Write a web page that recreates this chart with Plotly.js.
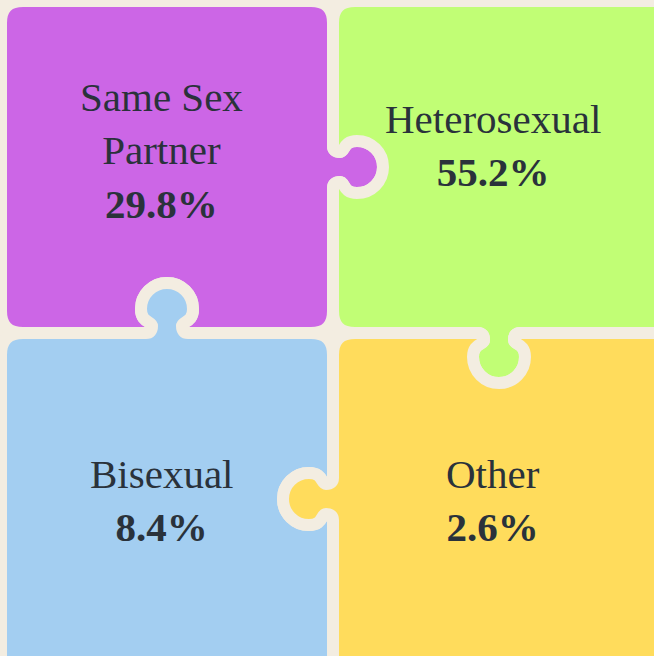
<!DOCTYPE html>
<html><head><meta charset="utf-8">
<script src="https://cdn.plot.ly/plotly-3.0.1.min.js"></script>
<style>html,body{margin:0;padding:0;background:#f3ede1;overflow:hidden}</style>
</head><body><div id="chart" style="width:654px;height:656px"></div>
<script>
// ---- data ----
const categories = ['Same Sex Partner', 'Heterosexual', 'Bisexual', 'Other'];
const values = [29.8, 55.2, 8.4, 2.6];
const colors = ['#cc66e6', '#c1fe75', '#a3cef1', '#ffdc5c'];

// ---- layout constants ----
const W = 654, H = 656;
const BG = '#f3ede1';
const ORIGIN = 1, CELL = 332, R = 22, OUTER_EXT = 30;
// tab signs per piece: [top, right, bottom, left]; +1 = knob out, -1 = hole
const tabs = [[0, 1, -1, 0], [0, 0, 1, -1], [1, -1, 0, 0], [-1, 0, 0, 1]];
const textYOffset = [-17, -22, 1, 1];

function piecePath(x0, y0, x1, y1, cx, cy, t) {
  const corners = [[x0, y0], [x1, y0], [x1, y1], [x0, y1]];
  const dirs = [[1, 0], [0, 1], [-1, 0], [0, -1]];
  let p = 'M' + (x0 + R) + ',' + y0;
  for (let e = 0; e < 4; e++) {
    const a = corners[e], b = corners[(e + 1) % 4], d = dirs[e];
    const n = [d[1], -d[0]];
    const s = t[e];
    // tab centred on the nominal cell centre along this edge
    const mx = d[0] !== 0 ? cx : a[0];
    const my = d[1] !== 0 ? cy : a[1];
    const pt = (u, v) => (mx + u * d[0] + s * v * n[0]).toFixed(2) + ',' + (my + u * d[1] + s * v * n[1]).toFixed(2);
    if (s !== 0) {
      p += ' L' + pt(-21, 0) + ' Q' + pt(-15, 0) + ' ' + pt(-15, 7) +
        ' C' + pt(-15, 12) + ' ' + pt(-26, 10) + ' ' + pt(-26, 24) +
        ' C' + pt(-26, 38.4) + ' ' + pt(-14.4, 50) + ' ' + pt(0, 50) +
        ' C' + pt(14.4, 50) + ' ' + pt(26, 38.4) + ' ' + pt(26, 24) +
        ' C' + pt(26, 10) + ' ' + pt(15, 12) + ' ' + pt(15, 7) +
        ' Q' + pt(15, 0) + ' ' + pt(21, 0);
    }
    const nd = dirs[(e + 1) % 4];
    p += ' L' + (b[0] - d[0] * R) + ',' + (b[1] - d[1] * R) +
      ' Q' + b[0] + ',' + b[1] + ' ' + (b[0] + nd[0] * R) + ',' + (b[1] + nd[1] * R);
  }
  return p + ' Z';
}

function wrap(label, maxLen) {
  const words = label.split(' ');
  const lines = [];
  let cur = '';
  words.forEach(w => {
    if (cur && (cur + ' ' + w).length > maxLen) { lines.push(cur); cur = w; }
    else cur = cur ? cur + ' ' + w : w;
  });
  if (cur) lines.push(cur);
  return lines.join('<br>');
}

const shapes = [], annotations = [];
categories.forEach((cat, k) => {
  const col = k % 2, row = Math.floor(k / 2);
  const x0 = ORIGIN + col * CELL, y0 = ORIGIN + row * CELL;
  const x1 = x0 + CELL + (col === 1 ? OUTER_EXT : 0);
  const y1 = y0 + CELL + (row === 1 ? OUTER_EXT : 0);
  const cx = x0 + CELL / 2, cy = y0 + CELL / 2;
  shapes.push({
    type: 'path', xref: 'x', yref: 'y', layer: 'below',
    path: piecePath(x0, y0, x1, y1, cx, cy, tabs[k]),
    fillcolor: colors[k], line: {color: BG, width: 12}
  });
  annotations.push({
    xref: 'x', yref: 'y', x: cx - 6, y: cy + textYOffset[k],
    xanchor: 'center', yanchor: 'middle', showarrow: false, align: 'center',
    text: wrap(cat, 12) + '<br><b>' + values[k].toFixed(1) + '%</b>',
    font: {family: 'Liberation Serif, serif', size: 41, color: '#2a323b'}
  });
});

const layout = {
  width: W, height: H,
  margin: {l: 0, r: 0, t: 0, b: 0, pad: 0},
  paper_bgcolor: BG, plot_bgcolor: BG,
  showlegend: false,
  xaxis: {range: [0, W], visible: false, fixedrange: true},
  yaxis: {range: [H, 0], visible: false, fixedrange: true},
  shapes: shapes, annotations: annotations
};

Plotly.newPlot('chart', [{x: [], y: [], type: 'scatter', hoverinfo: 'skip'}], layout,
  {displayModeBar: false, staticPlot: true}).then(gd => {
  gd.querySelectorAll('.shapelayer path').forEach(el => el.style.strokeLinejoin = 'round');
});
</script>
</body></html>
